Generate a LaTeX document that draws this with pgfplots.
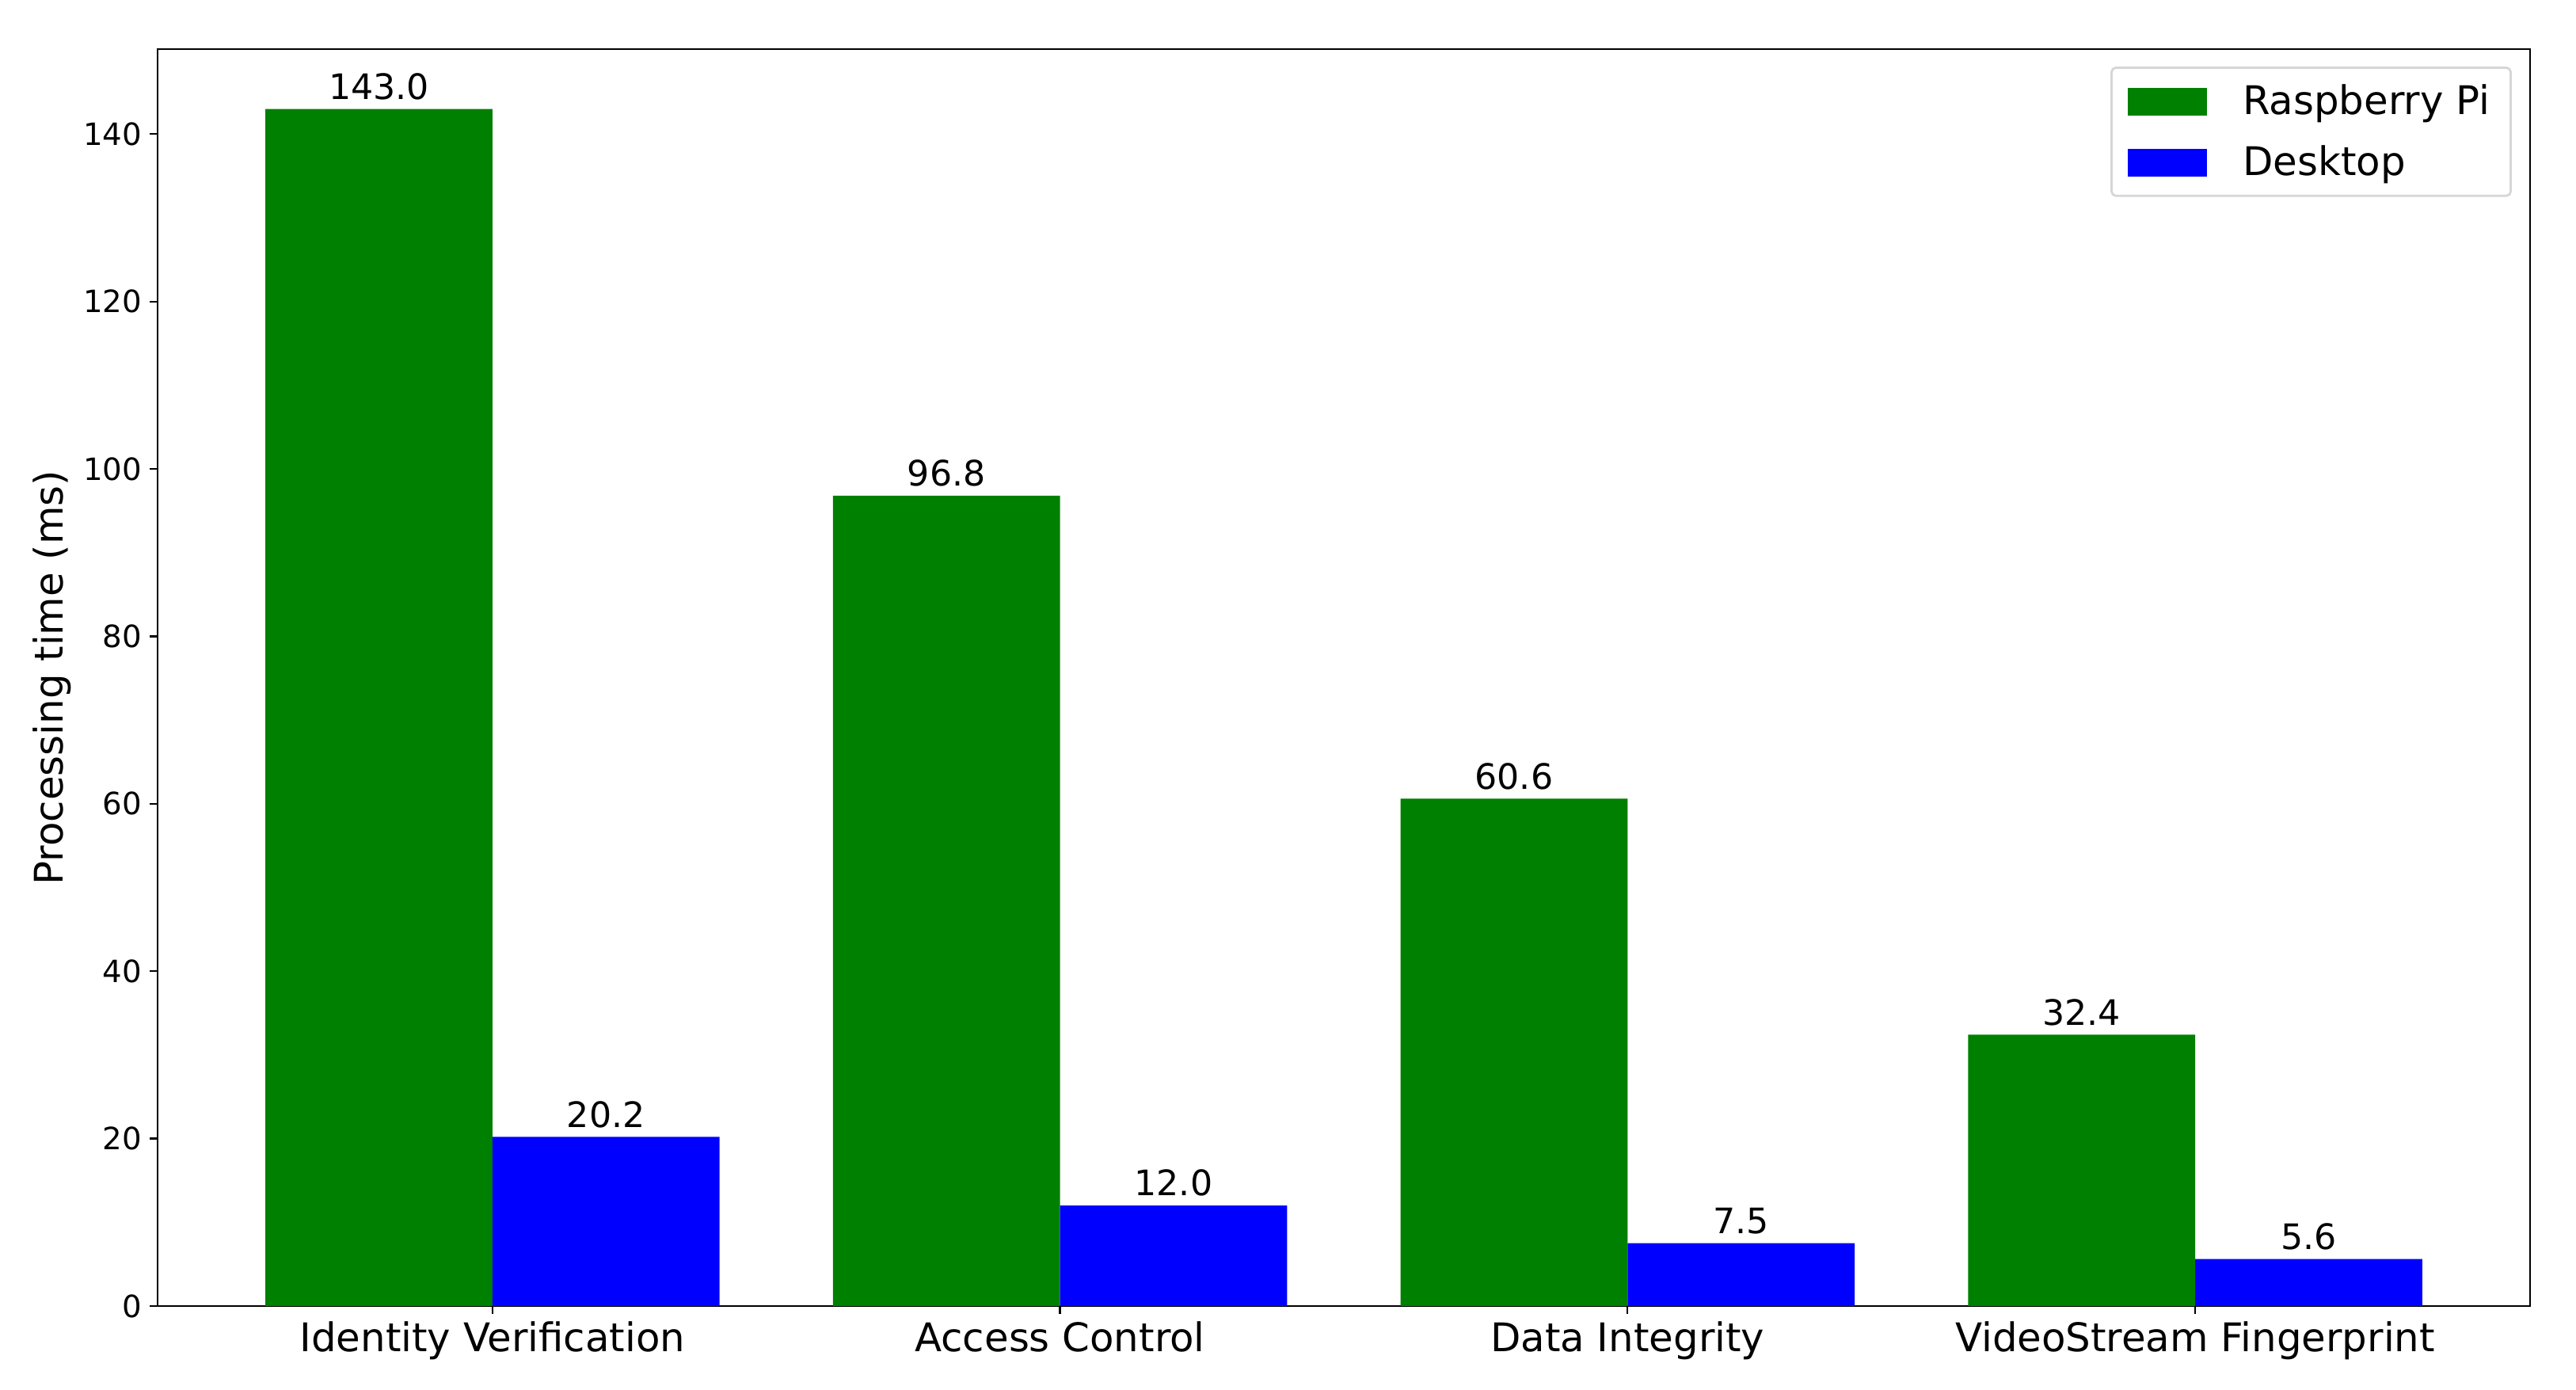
\documentclass[border=0pt]{standalone}
\usepackage{fontspec}
\setmainfont{DejaVu Sans}
\usepackage{pgfplots}
\pgfplotsset{compat=1.18}
\definecolor{mplgreen}{HTML}{008000}
\definecolor{mplblue}{HTML}{0000FF}
\definecolor{legframe}{HTML}{D6D6D6}
\begin{document}
\begin{tikzpicture}
\begin{axis}[
  name=ax,
  scale only axis,
  width=1082.7pt, height=573.5pt,
  xmin=-0.59, xmax=3.59,
  ymin=0, ymax=150.15,
  xtick={0,1,2,3},
  xticklabels={Identity Verification, Access Control, Data Integrity, VideoStream Fingerprint},
  ytick={0,20,40,60,80,100,120,140},
  tick align=outside,
  xtick pos=bottom, ytick pos=left,
  major tick length=3.5pt,
  tick style={line width=0.8pt, black},
  axis line style={line width=0.8pt},
  /pgf/number format/assume math mode=true,
  xticklabel style={font=\fontsize{18}{21.6}\selectfont, inner sep=0pt, yshift=-3.5pt},
  yticklabel style={font=\fontsize{14}{16.8}\selectfont, inner sep=0pt, xshift=-3.5pt},
  ylabel={Processing time (ms)},
  ylabel style={font=\fontsize{18}{21.6}\selectfont, at={(axis description cs:0,0.5)}, anchor=center, rotate=0, yshift=48pt},
  ybar, bar width=0.4, bar shift=0pt,
  nodes near coords,
  nodes near coords style={font=\fontsize{16}{19.2}\selectfont, anchor=south, inner sep=0pt, yshift=4pt,
    /pgf/number format/.cd, fixed, fixed zerofill, precision=1, assume math mode=true},
  legend image code/.code={\fill[#1, sharp corners] (0pt,-0.4pt) rectangle (36pt,12.2pt);},
  legend cell align=left,
  legend style={at={(1,1)}, anchor=north east, xshift=-8.3pt, yshift=-8pt,
    draw=legframe, line width=1pt, rounded corners=2pt,
    inner xsep=7.5pt, inner ysep=5.8pt,
    font=\fontsize{18}{21.6}\selectfont,
    cells={anchor=base west, inner sep=0pt},
    row sep=8.5pt, column sep=14.4pt},
]
\addplot[fill=mplgreen, draw=none] coordinates {(-0.2,143.0) (0.8,96.8) (1.8,60.6) (2.8,32.4)};
\addlegendentry{Raspberry Pi}
\addplot[fill=mplblue, draw=none] coordinates {(0.2,20.2) (1.2,12.0) (2.2,7.5) (3.2,5.6)};
\addlegendentry{Desktop}
\end{axis}
\pgfresetboundingbox
\path[use as bounding box] ([xshift=-71.9pt,yshift=-38.3pt]ax.south west) rectangle ([xshift=21pt,yshift=22.4pt]ax.north east);
\end{tikzpicture}
\end{document}
